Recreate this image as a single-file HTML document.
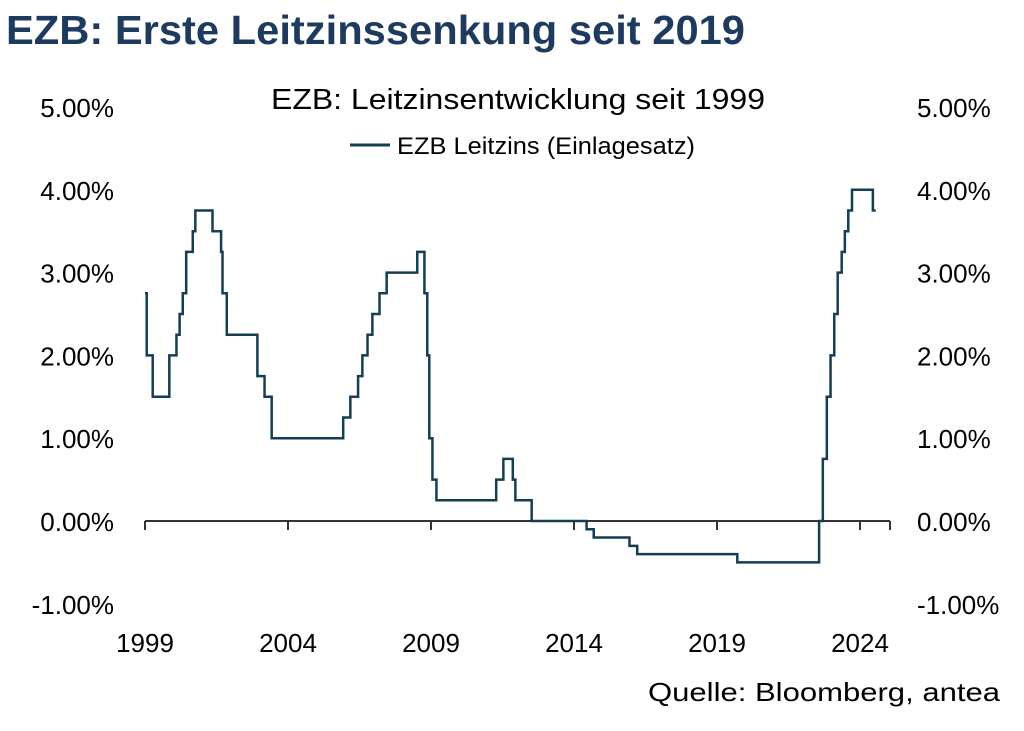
<!DOCTYPE html>
<html><head><meta charset="utf-8"><style>
body{margin:0;background:#fff;width:1024px;height:726px;overflow:hidden;font-family:"Liberation Sans",Calibri,sans-serif}
</style></head><body>
<svg width="1024" height="726" font-family="Liberation Sans, sans-serif">
<text x="6" y="44" font-size="41" font-weight="bold" fill="#1f3a5f" textLength="739" lengthAdjust="spacingAndGlyphs">EZB: Erste Leitzinssenkung seit 2019</text>
<text x="271" y="109" font-size="29" fill="#000" textLength="494" lengthAdjust="spacingAndGlyphs">EZB: Leitzinsentwicklung seit 1999</text>
<line x1="350" y1="145" x2="390" y2="145" stroke="#163e52" stroke-width="3"/>
<text x="397" y="154" font-size="24" fill="#000" textLength="298" lengthAdjust="spacingAndGlyphs">EZB Leitzins (Einlagesatz)</text>
<g id="ax"></g>
<path id="line" fill="none" stroke="#163e52" stroke-width="2.5"/>
<text x="648" y="701" font-size="26" fill="#000" textLength="352" lengthAdjust="spacingAndGlyphs">Quelle: Bloomberg, antea</text>
</svg>
<script>
const dates=[1999.0,1999.06,1999.27,1999.85,2000.10,2000.21,2000.32,2000.44,2000.67,2000.76,2001.36,2001.66,2001.71,2001.86,2002.93,2003.18,2003.43,2005.93,2006.18,2006.45,2006.60,2006.78,2006.95,2007.20,2007.45,2008.52,2008.77,2008.87,2008.94,2009.05,2009.19,2009.27,2011.28,2011.53,2011.86,2011.95,2012.52,2014.44,2014.69,2015.94,2016.21,2019.71,2022.57,2022.70,2022.84,2022.97,2023.10,2023.22,2023.36,2023.47,2023.59,2023.72,2024.45];
const rates=[2.75,2.0,1.5,2.0,2.25,2.5,2.75,3.25,3.5,3.75,3.5,3.25,2.75,2.25,1.75,1.5,1.0,1.25,1.5,1.75,2.0,2.25,2.5,2.75,3.0,3.25,2.75,2.0,1.0,0.5,0.25,0.25,0.5,0.75,0.5,0.25,0.0,-0.1,-0.2,-0.3,-0.4,-0.5,0.0,0.75,1.5,2.0,2.5,3.0,3.25,3.5,3.75,4.0,3.75];
const endDate=2024.55;
const yTicks=[-1,0,1,2,3,4,5];
const xTicks=[1999,2004,2009,2014,2019,2024];
const X=d=>145+(d-1999)*28.6, Y=v=>521-v*82.8;
const ns="http://www.w3.org/2000/svg", ax=document.getElementById('ax');
function mk(t,a){const e=document.createElementNS(ns,t);for(const k in a)e.setAttribute(k,a[k]);ax.appendChild(e);return e;}
const axl=mk('line',{x1:145,y1:Y(0),x2:890,y2:Y(0),stroke:'#333','stroke-width':2});


yTicks.forEach(v=>{const s=v.toFixed(2)+'%';
 const a=mk('text',{x:114,y:Y(v)+10,'font-size':26,'text-anchor':'end'});a.textContent=s;
 
 
 const b=mk('text',{x:917,y:Y(v)+10,'font-size':26});b.textContent=s;
 
 });
xTicks.concat([2025.05]).forEach(d=>{const t=mk('line',{x1:X(d),y1:Y(0),x2:X(d),y2:Y(0)+9,stroke:'#333','stroke-width':2});
 
 });
xTicks.forEach(d=>{const a=mk('text',{x:X(d),y:652,'font-size':26,'text-anchor':'middle'});a.textContent=d;
 
 });
let p='M'+X(dates[0])+' '+Y(rates[0]);
for(let i=1;i<dates.length;i++){p+=' H'+X(dates[i])+' V'+Y(rates[i]);}
p+=' H'+X(endDate);
document.getElementById('line').setAttribute('d',p);
</script>
</body></html>
